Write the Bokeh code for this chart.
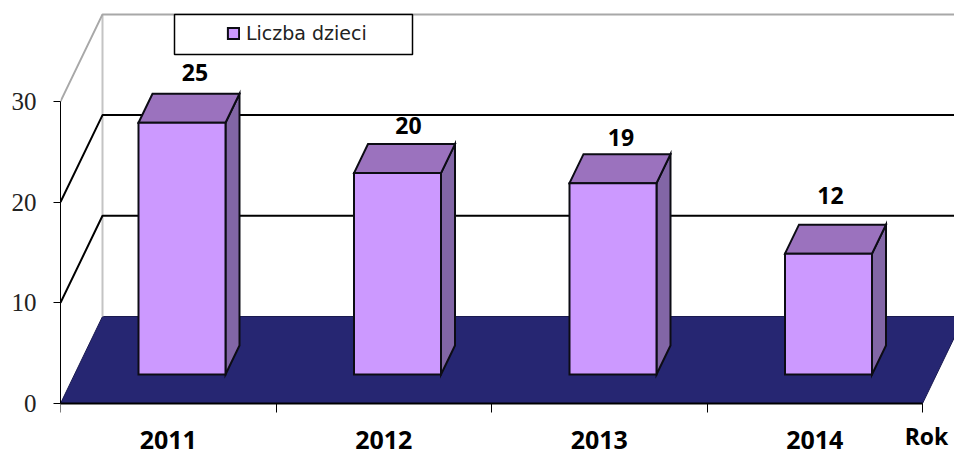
from bokeh.embed import file_html
from bokeh.resources import INLINE
from bokeh.plotting import figure
from bokeh.core.properties import value
from bokeh.models import (LinearAxis, FixedTicker, Legend, LegendItem, BoxAnnotation,
                          ColumnDataSource, Range1d)

years = ["2011", "2012", "2013", "2014"]
children = [25, 20, 19, 12]
y_ticks = [0, 10, 20, 30]
series_name = "Liczba dzieci"
x_title = "Rok"

# label nudges (px), as hand-placed in the original
label_dx = [-1, -3, -6, -12]
label_dy = [1, -2, -4, 9]

# 3D projection constants (data units)
PX_X = 215.5
PX_Y = 10.07
W = 954
H = 450
DEPTH_X = 42 / PX_X
DEPTH_Y = 87 / PX_Y
N = len(years)
BAR_L = 78 / PX_X - 14 / PX_X
BAR_W = 87 / PX_X

p = figure(width=W, height=H, output_backend="svg", toolbar_location=None,
           x_axis_type=None, y_axis_type=None,
           x_range=Range1d(0, (954 - 60) / PX_X), y_range=Range1d(-47 / PX_Y, (403 - 8) / PX_Y),
           min_border_left=60, min_border_right=0, min_border_top=8, min_border_bottom=0,
           outline_line_color=None, background_fill_color="white", border_fill_color="white")
p.grid.visible = False

# floor
p.patch([0, N, N + DEPTH_X, DEPTH_X], [0, 0, DEPTH_Y, DEPTH_Y],
        fill_color="#262672", line_color="#1a1a50", line_width=1)

# walls
grey = "#c4c4c4"
p.line([DEPTH_X, DEPTH_X], [DEPTH_Y, y_ticks[-1] + DEPTH_Y], line_color=grey, line_width=2)
p.line([0, DEPTH_X, N + DEPTH_X], [y_ticks[-1], y_ticks[-1] + DEPTH_Y, y_ticks[-1] + DEPTH_Y],
       line_color="#a8a8a8", line_width=2)
for t in y_ticks[1:-1]:
    p.line([0, DEPTH_X, N + DEPTH_X], [t, t + DEPTH_Y, t + DEPTH_Y], line_color="black", line_width=2)

# bars
off_x = DEPTH_X / 3
off_y = DEPTH_Y / 3
lefts = [i + BAR_L + off_x for i in range(N)]
rights = [l + BAR_W for l in lefts]
base = off_y
tops = [base + v for v in children]

edge = dict(line_color="#0c0c14", line_width=2, line_join="miter")
p.patches([[r, r + off_x, r + off_x, r] for r in rights],
          [[base, base + off_y, t + off_y, t] for t in tops],
          fill_color="#8266A6", **edge)
p.patches([[l, l + off_x, r + off_x, r] for l, r in zip(lefts, rights)],
          [[t, t + off_y, t + off_y, t] for t in tops],
          fill_color="#9B72BE", **edge)
front = p.quad(left=lefts, right=rights, bottom=base, top=tops, fill_color="#CC99FF", **edge)

# value labels
src = ColumnDataSource(dict(
    x=[(l + r) / 2 + off_x for l, r in zip(lefts, rights)],
    y=[t + off_y for t in tops],
    text=[str(v) for v in children],
    dx=label_dx,
    dy=[-12 - d for d in label_dy],
))
p.text("x", "y", text="text", source=src, x_offset="dx", y_offset="dy",
       text_font=value("Open Sans"), text_font_style="bold", text_font_size="23px",
       text_align="center", text_baseline="bottom", text_color="black")

# axes
xa = LinearAxis(ticker=FixedTicker(ticks=[i + 0.5 for i in range(N)], minor_ticks=list(range(N + 1))),
                major_label_overrides={i + 0.5: y for i, y in enumerate(years)},
                bounds=(0, N), fixed_location=0, axis_line_color="black", axis_line_width=2,
                major_tick_line_color=None, minor_tick_line_color="black", minor_tick_line_width=1,
                minor_tick_in=0, minor_tick_out=9, major_label_standoff=18,
                major_label_text_font="Open Sans", major_label_text_font_style="bold",
                major_label_text_font_size="25px", major_label_text_color="black")
p.add_layout(xa, "below")

ya = LinearAxis(ticker=FixedTicker(ticks=y_ticks), bounds=(0, y_ticks[-1]),
                axis_line_color="black", axis_line_width=1,
                major_tick_line_color="black", major_tick_line_width=1, major_tick_in=0, major_tick_out=7,
                minor_tick_line_color=None, major_label_standoff=17,
                major_label_text_font="Liberation Serif", major_label_text_font_size="25px",
                major_label_text_color="#222222")
p.add_layout(ya, "left")

# axis title
p.text([N + 4 / PX_X], [0], text=[x_title], y_offset=32, text_align="center", text_baseline="middle",
       text_font=value("Open Sans"), text_font_style="bold", text_font_size="23px", text_color="black")

# legend box
p.add_layout(BoxAnnotation(left=114 / PX_X, right=352 / PX_X, bottom=349 / PX_Y, top=389 / PX_Y,
                           fill_color="white", fill_alpha=1, line_color="black", line_width=1.5, line_alpha=1,
                           level="overlay"))
leg = Legend(items=[LegendItem(label=series_name, renderers=[front])],
             location=(166, 359 + 47), padding=0, margin=0, spacing=0,
             glyph_width=14, glyph_height=14, label_standoff=6, label_height=14,
             label_text_font="DejaVu Sans", label_text_font_size="19px", label_text_color="#222222",
             label_text_baseline="middle",
             background_fill_alpha=0, border_line_color=None)
p.add_layout(leg)

open("out.html", "w").write(file_html(p, INLINE))
